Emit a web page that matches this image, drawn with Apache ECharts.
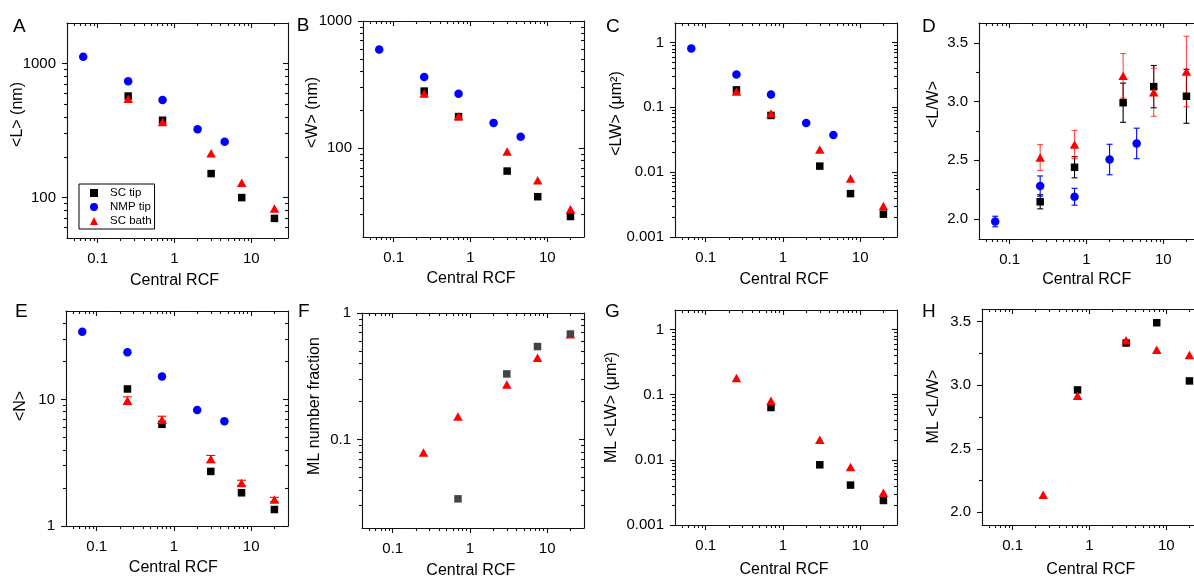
<!DOCTYPE html>
<html><head><meta charset="utf-8">
<script src="https://cdn.jsdelivr.net/npm/echarts@6/dist/echarts.min.js"></script>
<style>html,body{margin:0;padding:0;background:#fff}#c{width:1194px;height:579px}</style>
</head><body><div id="c"></div>
<script>
// ---------------- data ----------------
const xNMP = [0.065, 0.25, 0.7, 2, 4.5];
const xSC = [0.25, 0.7, 3, 7.5, 20];
const xSC4 = [0.7, 3, 7.5, 20];
const xTicks = [0.1, 1, 10];
const seriesNames = ['SC tip', 'NMP tip', 'SC bath'];

// A: <L> (nm)
const L_scTip = [571, 377, 151, 100, 70];
const L_nmpTip = [1120, 735, 533, 323, 261];
const L_scBath = [545, 366, 214, 129, 83];
// B: <W> (nm)
const W_scTip = [281, 177, 66, 41.5, 29];
const W_nmpTip = [597, 362, 268, 158, 123];
const W_scBath = [269, 178, 94, 56, 33];
// C: <LW> (um^2)
const LW_scTip = [0.186, 0.075, 0.0124, 0.00467, 0.00225];
const LW_nmpTip = [0.81, 0.32, 0.158, 0.0573, 0.0375];
const LW_scBath = [0.175, 0.0805, 0.0224, 0.008, 0.003];
// D: <L/W> with errors
const LoW_scTip = [2.147, 2.441, 2.991, 3.128, 3.046];
const LoW_scTipErr = [0.06, 0.09, 0.167, 0.18, 0.23];
const LoW_nmpTip = [1.979, 2.281, 2.19, 2.507, 2.644];
const LoW_nmpTipErr = [0.045, 0.086, 0.072, 0.13, 0.13];
const LoW_scBath = [2.524, 2.635, 3.22, 3.08, 3.257];
const LoW_scBathErr = [0.11, 0.12, 0.19, 0.205, 0.30];
// E: <N>
const N_scTip = [12.1, 6.36, 2.70, 1.83, 1.35];
const N_nmpTip = [34.3, 23.6, 15.2, 8.24, 6.74];
const N_scBath = [9.8, 6.92, 3.39, 2.19, 1.62];
const N_scBathErr = [0.68, 0.45, 0.22, 0.11, 0.065];
// F: ML number fraction
const F_scTip = [0.034, 0.33, 0.543, 0.682];
const F_scBath = [0.079, 0.152, 0.272, 0.442, 0.68];
// G: ML <LW>
const G_scTip = [0.0637, 0.0084, 0.0041, 0.00238];
const G_scBath = [0.18, 0.0806, 0.0203, 0.00776, 0.00313];
// H: ML <L/W>
const H_scTip = [2.963, 3.332, 3.492, 3.034];
const H_scBath = [2.139, 2.918, 3.355, 3.279, 3.237];

// ---------------- styling / layout ----------------
const FONT = '"Liberation Sans", Arial, Helvetica, sans-serif';
const AX = '#111';
const LWID = 1.1;
const X_MIN = 0.04, X_MAX = 30;

const grids = [], xAxes = [], yAxes = [], series = [], graphics = [];

function logMajor(min, max) { const o = []; for (let e = -4; e <= 4; e++) { const v = +Math.pow(10, e).toPrecision(6); if (v >= min * 0.9999 && v <= max * 1.0001) o.push(v); } return o; }
function logMinor(min, max) { const o = []; for (let e = -4; e <= 4; e++) for (let m = 2; m <= 9; m++) { const v = +(m * Math.pow(10, e)).toPrecision(6); if (v > min * 1.0001 && v < max * 0.9999) o.push(v); } return o; }
const fmtLog = v => String(+(+v).toPrecision(6));
const fmtLin = v => (+v).toFixed(1);

function axisSet(dim, g, base, major, minor, fmt) {
  const arr = dim === 'x' ? xAxes : yAxes;
  const pos1 = dim === 'x' ? 'bottom' : 'left';
  const pos2 = dim === 'x' ? 'top' : 'right';
  const idx = arr.length;
  const line = { show: true, onZero: false, lineStyle: { color: AX, width: LWID } };
  const noLine = { show: false, onZero: false };
  const tickStyle = { color: AX, width: LWID };
  const common = Object.assign({ gridIndex: g, splitLine: { show: false }, minorTick: { show: false }, axisPointer: { show: false }, silent: true }, base);
  arr.push(Object.assign({}, common, { position: pos1, axisLine: line,
    axisTick: { show: true, inside: false, length: 5, customValues: major, lineStyle: tickStyle },
    axisLabel: { show: true, customValues: major, formatter: fmt, fontFamily: FONT, fontSize: 15, color: '#000', margin: dim === 'x' ? 13 : 11 } }));
  arr.push(Object.assign({}, common, { position: pos1, axisLine: noLine,
    axisTick: { show: true, inside: false, length: 3, customValues: minor, lineStyle: tickStyle }, axisLabel: { show: false } }));
  arr.push(Object.assign({}, common, { position: pos2, axisLine: line,
    axisTick: { show: true, inside: true, length: 5, customValues: major, lineStyle: tickStyle }, axisLabel: { show: false } }));
  arr.push(Object.assign({}, common, { position: pos2, axisLine: noLine,
    axisTick: { show: true, inside: true, length: 3, customValues: minor, lineStyle: tickStyle }, axisLabel: { show: false } }));
  return idx;
}

function panel(p) {
  const g = grids.length;
  grids.push({ left: p.rect[0], top: p.rect[1], width: p.rect[2], height: p.rect[3], containLabel: false, outerBoundsMode: 'none', show: false });
  const xi = axisSet('x', g, { type: 'log', logBase: 10, min: X_MIN, max: X_MAX }, xTicks, logMinor(X_MIN, X_MAX), fmtLog);
  let yi;
  if (p.ylog) {
    yi = axisSet('y', g, { type: 'log', logBase: 10, min: p.y[0], max: p.y[1] }, logMajor(p.y[0], p.y[1]), logMinor(p.y[0], p.y[1]), fmtLog);
  } else {
    yi = axisSet('y', g, { type: 'value', min: p.y[0], max: p.y[1], scale: true }, p.yMajor, p.yMinor, fmtLin);
  }
  graphics.push({ type: 'text', x: p.letter[0], y: p.letter[1], style: { text: p.name, font: '19px ' + FONT, fill: '#000', textAlign: 'left', textVerticalAlign: 'middle' } });
  graphics.push({ type: 'text', x: p.xt[0], y: p.xt[1], style: { text: 'Central RCF', font: '16px ' + FONT, fill: '#000', textAlign: 'center', textVerticalAlign: 'middle' } });
  graphics.push({ type: 'text', x: p.yt[0], y: p.yt[1], rotation: Math.PI / 2, style: { text: p.ytitle, font: '16px ' + FONT, fill: '#000', textAlign: 'center', textVerticalAlign: 'middle' } });
  return { xi, yi };
}

function pairs(xs, ys) { return xs.map((x, i) => [x, ys[i]]); }
function pairsErr(xs, ys, es) { return xs.map((x, i) => [x, ys[i], es[i]]); }

const SYM = {
  'SC tip': { symbol: 'rect', symbolSize: 7.5, color: '#000000' },
  'NMP tip': { symbol: 'circle', symbolSize: 8.5, color: '#0000ff' },
  'SC bath': { symbol: 'triangle', symbolSize: [9.5, 8.5], color: '#ff0000' }
};

function scatter(ax, name, xs, ys, color, z) {
  const s = SYM[name];
  series.push({ type: 'scatter', name: name, xAxisIndex: ax.xi, yAxisIndex: ax.yi, data: pairs(xs, ys),
    symbol: s.symbol, symbolSize: s.symbolSize, itemStyle: { color: color || s.color, opacity: 1 }, z: z || 3,
    emphasis: { disabled: true }, animation: false, clip: false });
}

function errorBars(ax, name, xs, ys, es, color, hw, z) {
  series.push({ type: 'custom', name: name + ' err', xAxisIndex: ax.xi, yAxisIndex: ax.yi, data: pairsErr(xs, ys, es),
    encode: { x: 0, y: 1 }, z: z || 2, animation: false, clip: false, silent: true,
    renderItem: function (params, api) {
      const x = api.value(0), y = api.value(1), e = api.value(2);
      const t = api.coord([x, y + e]), b = api.coord([x, y - e]);
      const st = { stroke: color, lineWidth: 1.1, fill: null };
      return { type: 'group', children: [
        { type: 'line', shape: { x1: t[0], y1: t[1], x2: b[0], y2: b[1] }, style: st },
        { type: 'line', shape: { x1: t[0] - hw, y1: t[1], x2: t[0] + hw, y2: t[1] }, style: st },
        { type: 'line', shape: { x1: b[0] - hw, y1: b[1], x2: b[0] + hw, y2: b[1] }, style: st }
      ] };
    } });
}

// ---------------- panels ----------------
const pA = panel({ name: 'A', rect: [67, 23, 221, 215], ylog: true, y: [50, 2000], ytitle: '<L> (nm)', letter: [13, 26.7], xt: [174.5, 281], yt: [17.5, 114.5] });
scatter(pA, 'SC tip', xSC, L_scTip, null, 3);
scatter(pA, 'NMP tip', xNMP, L_nmpTip, null, 3);
scatter(pA, 'SC bath', xSC, L_scBath, null, 4);

const pB = panel({ name: 'B', rect: [363, 21, 221, 216], ylog: true, y: [20, 1000], ytitle: '<W> (nm)', letter: [296.7, 25.5], xt: [471, 279], yt: [312.5, 112.5] });
scatter(pB, 'SC tip', xSC, W_scTip, null, 3);
scatter(pB, 'NMP tip', xNMP, W_nmpTip, null, 3);
scatter(pB, 'SC bath', xSC, W_scBath, null, 4);

const pC = panel({ name: 'C', rect: [675, 23, 222, 214], ylog: true, y: [0.001, 2], ytitle: '<LW> (μm²)', letter: [606, 26.5], xt: [784, 280], yt: [617, 113.5] });
scatter(pC, 'SC tip', xSC, LW_scTip, null, 3);
scatter(pC, 'NMP tip', xNMP, LW_nmpTip, null, 3);
scatter(pC, 'SC bath', xSC, LW_scBath, null, 4);

const pD = panel({ name: 'D', rect: [979, 23, 221, 216], ylog: false, y: [1.83, 3.67], yMajor: [2.0, 2.5, 3.0, 3.5], yMinor: [2.25, 2.75, 3.25], ytitle: '<L/W>', letter: [922, 26.7], xt: [1086.7, 280], yt: [934, 104.5] });
errorBars(pD, 'SC tip', xSC, LoW_scTip, LoW_scTipErr, '#000000', 3, 2);
errorBars(pD, 'NMP tip', xNMP, LoW_nmpTip, LoW_nmpTipErr, '#0000ff', 3, 2);
errorBars(pD, 'SC bath', xSC, LoW_scBath, LoW_scBathErr, 'rgba(255,0,0,0.7)', 3, 2);
scatter(pD, 'SC tip', xSC, LoW_scTip, null, 3);
scatter(pD, 'NMP tip', xNMP, LoW_nmpTip, null, 3);
scatter(pD, 'SC bath', xSC, LoW_scBath, null, 4);

const pE = panel({ name: 'E', rect: [66, 311, 222, 215], ylog: true, y: [1, 50], ytitle: '<N>', letter: [15, 312], xt: [173.3, 568], yt: [21, 406] });
scatter(pE, 'SC tip', xSC, N_scTip, null, 3);
scatter(pE, 'NMP tip', xNMP, N_nmpTip, null, 3);
errorBars(pE, 'SC bath', xSC, N_scBath, N_scBathErr, '#ff0000', 4.5, 4);
scatter(pE, 'SC bath', xSC, N_scBath, null, 4);

const pF = panel({ name: 'F', rect: [362, 313, 222, 215], ylog: true, y: [0.02, 1], ytitle: 'ML number fraction', letter: [298, 311.5], xt: [470.8, 571], yt: [315, 406] });
scatter(pF, 'SC bath', xSC, F_scBath, null, 3);
scatter(pF, 'SC tip', xSC4, F_scTip, '#444444', 4);

const pG = panel({ name: 'G', rect: [675, 310, 222, 215], ylog: true, y: [0.001, 2], ytitle: 'ML <LW> (μm²)', letter: [605, 312], xt: [784, 570], yt: [611.5, 407.5] });
scatter(pG, 'SC tip', xSC4, G_scTip, null, 3);
scatter(pG, 'SC bath', xSC, G_scBath, null, 4);

const pH = panel({ name: 'H', rect: [982, 309, 221, 216], ylog: false, y: [1.9, 3.6], yMajor: [2.0, 2.5, 3.0, 3.5], yMinor: [2.25, 2.75, 3.25], ytitle: 'ML <L/W>', letter: [922, 311.5], xt: [1090.8, 570], yt: [934, 406.5] });
scatter(pH, 'SC tip', xSC4, H_scTip, null, 3);
scatter(pH, 'SC bath', xSC, H_scBath, null, 4);

const chart = echarts.init(document.getElementById('c'), null, { renderer: 'canvas' });
chart.setOption({
  animation: false,
  backgroundColor: '#ffffff',
  textStyle: { fontFamily: FONT },
  grid: grids,
  xAxis: xAxes,
  yAxis: yAxes,
  legend: {
    data: seriesNames, orient: 'vertical', left: 79, top: 184,
    borderColor: '#000', borderWidth: 1, padding: [2, 3, 1, 11], itemGap: 0,
    itemWidth: 8, itemHeight: 8, selectedMode: false,
    textStyle: { fontFamily: FONT, fontSize: 11.5, color: '#000', lineHeight: 14, padding: [0, 0, 0, 7] }
  },
  graphic: graphics,
  series: series
});
</script>
</body></html>
